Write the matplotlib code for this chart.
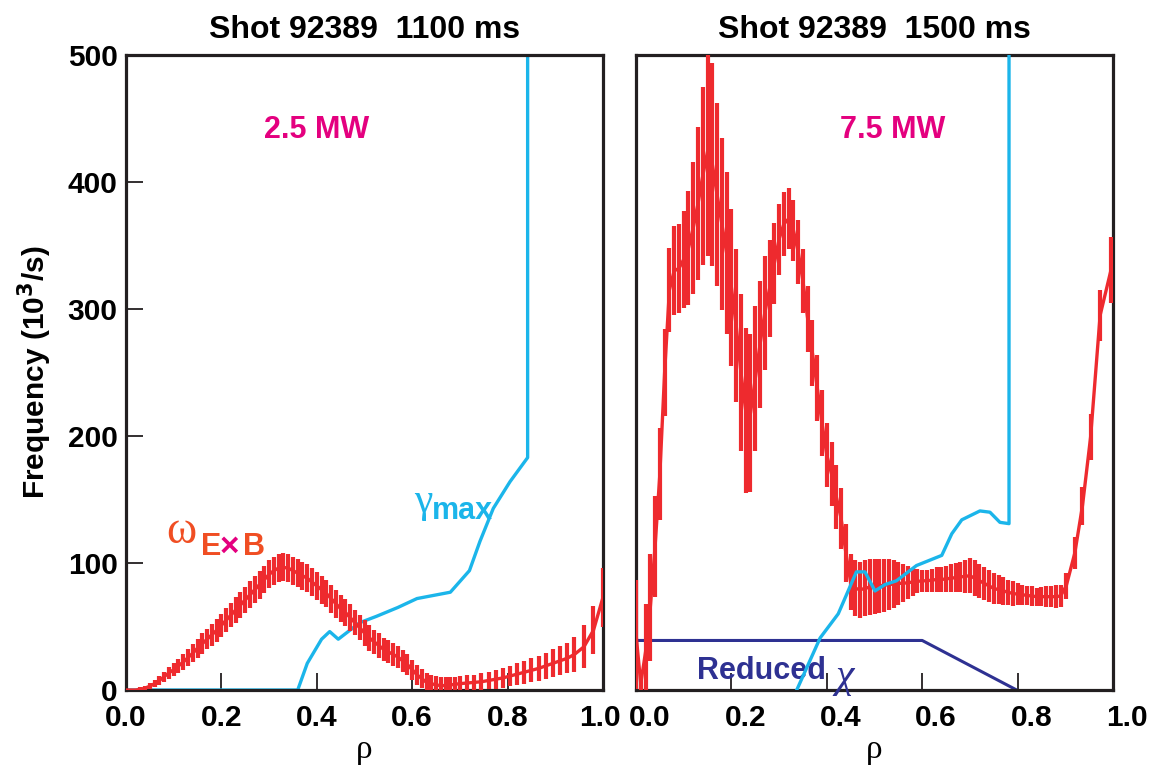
import numpy as np
import matplotlib
matplotlib.use('Agg')
import matplotlib.pyplot as plt
from matplotlib.transforms import ScaledTranslation

plt.rcParams['font.family'] = ['Liberation Sans', 'DejaVu Sans']
plt.rcParams['font.weight'] = 'bold'

red = '#ee2a2e'
cyan = '#1bb5ea'
navy = '#2e3192'
magenta = '#e4007f'
black = '#231f20'

# ---- left panel: 1100 ms, 2.5 MW ----
# omega ExB, core points every 0.01 in rho from 0 to 0.70
wL_core = [0, 0, 0, 0.5, 1.5, 3, 5, 7.5, 10.5, 13.5,
           16, 19, 22, 25.5, 29, 33, 36.5, 40, 43.5, 47,
           51, 55, 59, 63, 67, 71, 75, 79, 83, 87,
           91, 94, 96, 96.5, 96, 94, 92, 90, 88, 85,
           82, 79, 76, 72, 68, 64, 61, 57, 53, 49,
           45, 41, 38, 35, 32, 30, 28, 26, 23, 20,
           16, 12, 9, 6, 5, 4, 3.5, 3.5, 4, 4.5,
           5]
eL_core = [1, 1, 1, 1.5, 2, 2.5, 3, 3.5, 4, 4.5,
           5, 5.5, 6, 6.5, 7, 7.5, 8, 8, 8.5, 9,
           9, 9.5, 9.5, 10, 10, 10, 10.5, 10.5, 11, 11,
           11, 11, 11, 11, 11, 11, 11, 11, 11, 11,
           11, 11, 11, 11, 11, 10.5, 10.5, 10.5, 10, 10,
           10, 10, 9.5, 9.5, 9, 9, 9, 8.5, 8.5, 8,
           8, 8, 7.5, 7.5, 7, 7, 7, 6.5, 6.5, 6,
           6]
rhoL_tail = [0.715, 0.73, 0.745, 0.76, 0.775, 0.79, 0.805, 0.82, 0.835, 0.85,
             0.865, 0.88, 0.895, 0.91, 0.925, 0.94, 0.96, 0.98, 1.0]
wL_tail = [5.5, 6, 6.5, 7.5, 8.5, 9.5, 11, 12.5, 14, 15.5,
           17, 19, 21, 23, 25, 28, 34, 47, 73]
eL_tail = [6, 6, 6.5, 7, 7.5, 8, 8, 8.5, 9, 9.5,
           10, 10.5, 11, 11.5, 12, 14, 17, 19, 23]

gL_rho = [0, 0.36, 0.38, 0.41, 0.427, 0.445, 0.49, 0.525, 0.57, 0.61,
          0.68, 0.72, 0.742, 0.77, 0.805, 0.842, 0.842]
gL_val = [0, 0, 21, 40, 46, 40, 53, 58, 65, 72,
          77, 94, 117, 143, 164, 183, 520]

# ---- right panel: 1500 ms, 7.5 MW ----
wR_core = [44, 5, 30, 65, 113, 170, 250, 315, 330, 332,
           339, 348, 364, 383, 405, 424, 414, 390, 367, 344,
           317, 287, 250, 220, 218, 245, 272, 297, 316, 336,
           355, 367, 371, 362, 345, 322, 292, 265, 238, 210,
           185, 170, 152, 135, 108, 85, 80, 79, 80, 81,
           81.5, 82, 82.5, 83, 83.5, 84, 84, 84.5, 85, 85.5,
           86, 86, 86.5, 87, 87, 87.5, 88, 88.5, 89, 89.5,
           90, 88, 86, 84, 82, 80, 79, 78, 77, 76,
           75.5, 75, 74.5, 74, 73.5, 73.5, 73.5, 73.5, 73.5, 74]
eR_core = [43, 10, 38, 42, 40, 36, 34, 33, 35, 35,
           38, 45, 52, 60, 70, 82, 80, 72, 68, 64,
           62, 60, 62, 65, 62, 57, 50, 45, 38, 32,
           28, 25, 24, 24, 25, 25, 26, 26, 26, 26,
           25, 25, 25, 24, 23, 22, 22, 22, 22, 22,
           22, 21, 21, 20, 19, 17, 15, 13, 11, 9.5,
           8.5, 8.5, 9, 9.5, 10, 10.5, 11, 11.5, 12, 13,
           14, 14, 13.5, 13, 12.5, 12, 11.5, 11, 10, 9.5,
           8.5, 8, 7.5, 7.5, 7, 7.5, 8, 8.5, 9, 9]
rhoR_tail = [0.902, 0.920, 0.936, 0.953, 0.973, 0.996]
wR_tail = [82, 108, 145, 199, 295, 331]
eR_tail = [10.5, 12.5, 15, 18, 20, 26]

gR_rho = [0.337, 0.386, 0.424, 0.462, 0.480, 0.501, 0.522, 0.546, 0.588, 0.641,
          0.662, 0.683, 0.721, 0.742, 0.763, 0.782, 0.782]
gR_val = [0, 41, 60, 93, 93, 78, 83, 86, 98, 106,
          123, 134, 141, 140, 132, 131, 520]

chi_rho = [0, 0.6, 0.798]
chi_val = [39, 39, 0]

xtick_pos = [0, 0.2, 0.4, 0.6, 0.8, 1.0]
xtick_lab = ['0.0', '0.2', '0.4', '0.6', '0.8', '1.0']
ytick_pos = [0, 100, 200, 300, 400, 500]

rhoL = list(np.arange(len(wL_core)) * 0.01) + rhoL_tail
wL = wL_core + wL_tail
eL = eL_core + eL_tail
rhoR = list(np.arange(len(wR_core)) * 0.01) + rhoR_tail
wR = wR_core + wR_tail
eR = eR_core + eR_tail

fig = plt.figure(figsize=(11.51, 7.71), dpi=100)
axL = fig.add_axes([126 / 1151, 1 - 690 / 771, 477 / 1151, 635 / 771])
axR = fig.add_axes([636 / 1151, 1 - 690 / 771, 477 / 1151, 635 / 771])

for ax in (axL, axR):
    ax.set_xlim(0, 1)
    ax.set_ylim(0, 500)
    for s in ax.spines.values():
        s.set_linewidth(2.3)
        s.set_color(black)
    ax.set_xticks(xtick_pos)
    ax.set_xticklabels(xtick_lab)
    ax.tick_params(axis='x', direction='in', length=12, width=1.3, color=black,
                   labelsize=21.5, pad=10)
    ax.set_xlabel('ρ', fontsize=24, fontweight='normal', family='Liberation Serif', labelpad=2)

axL.set_yticks(ytick_pos)
axL.tick_params(axis='y', direction='in', length=12, width=1.3, color=black,
                labelsize=21.5, pad=6)
axL.set_ylabel('Frequency (10$^\\mathbf{3}$/s)', fontsize=21.5, fontweight='bold', labelpad=10)
axR.set_yticks([])

# nudge tick labels like the original layout
axL.get_xticklabels()[-1].set_transform(
    axL.get_xticklabels()[-1].get_transform() + ScaledTranslation(-0.03, 0, fig.dpi_scale_trans))
for lab in axR.get_xticklabels():
    lab.set_transform(lab.get_transform() + ScaledTranslation(0.14, 0, fig.dpi_scale_trans))

axL.set_title('Shot 92389  1100 ms', fontsize=23, fontweight='bold', pad=12)
axR.set_title('Shot 92389  1500 ms', fontsize=23, fontweight='bold', pad=12)

# left curves
axL.plot(gL_rho, gL_val, color=cyan, lw=2.4, zorder=2)
axL.errorbar(rhoL, wL, yerr=eL, fmt='-', color=red, lw=2.4, elinewidth=3.0,
             capsize=0, zorder=3)

axL.text(0.40, 441, '2.5 MW', color=magenta, fontsize=22, ha='center', va='center')
axL.text(0.642, 140, 'γ', color=cyan, fontsize=30, fontweight='normal',
         family='Liberation Serif', ha='right', va='baseline')
axL.text(0.642, 135, 'max', color=cyan, fontsize=22, ha='left', va='baseline')
axL.text(0.085, 116, 'ω', color='#f04e23', fontsize=33, fontweight='normal',
         family='Liberation Serif', ha='left', va='baseline')
axL.text(0.158, 106, 'E', color='#f04e23', fontsize=22, ha='left', va='baseline')
axL.text(0.196, 106, '×', color=magenta, fontsize=24, ha='left', va='baseline')
axL.text(0.245, 106, 'B', color='#f04e23', fontsize=22, ha='left', va='baseline')

# right curves
axR.plot(chi_rho, chi_val, color=navy, lw=2.2, zorder=2)
axR.plot(gR_rho, gR_val, color=cyan, lw=2.4, zorder=4)
axR.errorbar(rhoR, wR, yerr=eR, fmt='-', color=red, lw=2.4, elinewidth=3.0,
             capsize=0, zorder=3)

axR.text(0.539, 441, '7.5 MW', color=magenta, fontsize=22, ha='center', va='center')
axR.text(0.128, 9, 'Reduced', color=navy, fontsize=22, ha='left', va='baseline')
axR.text(0.418, 2, 'χ', color=navy, fontsize=30, fontweight='normal',
         family='Liberation Serif', style='italic', ha='left', va='baseline')

fig.savefig('out.png', dpi=100)
